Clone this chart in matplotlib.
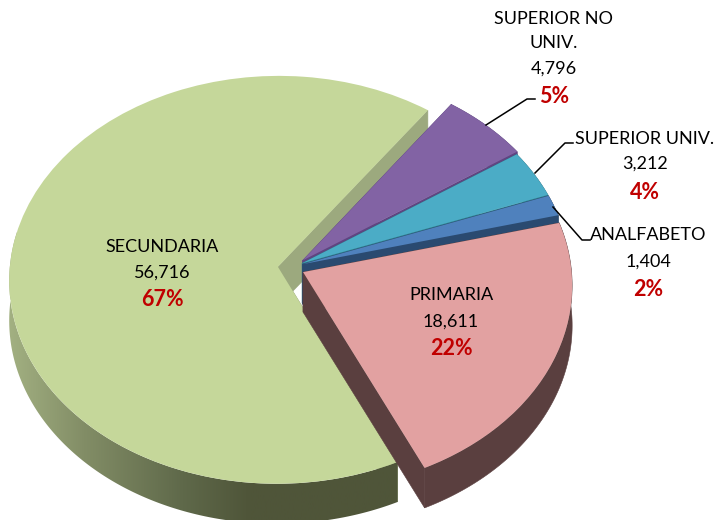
import numpy as np
import matplotlib
matplotlib.use("Agg")
import matplotlib.pyplot as plt
from matplotlib.colors import LinearSegmentedColormap
from matplotlib.patches import Polygon
from matplotlib.transforms import Transform

# --- data ---
categorias = ["PRIMARIA", "SECUNDARIA", "SUPERIOR NO\nUNIV.", "SUPERIOR UNIV.", "ANALFABETO"]
valores = [18611, 56716, 4796, 3212, 1404]
etiquetas_valor = ["18,611", "56,716", "4,796", "3,212", "1,404"]
porcentajes = ["22%", "67%", "5%", "4%", "2%"]
colores = ["#E2A1A1", "#C5D79A", "#8263A4", "#4BACC6", "#4F81BD"]
colores_pared = ["#5A3F3F", "#9CA97E", "#5F4581", "#2F7C8B", "#2A4A70"]
explosion = [0.0, 0.064, 0.04, 0.03, 0.03]

# --- camera ---
CX, CY = 295, 266
RX, RY = 268, 203
P = 0.0637
PROF = 40


class Perspectiva(Transform):
    input_dims = 2
    output_dims = 2
    is_separable = False
    has_inverse = False

    def transform_non_affine(self, values):
        v = np.asarray(values, dtype=float)
        d = 1 + P * v[:, 1]
        return np.column_stack([CX + RX * v[:, 0] / d, CY - RY * v[:, 1] / d])


persp = Perspectiva()

fig = plt.figure(figsize=(7.17, 5.2), dpi=100)
ax = fig.add_axes([0, 0, 1, 1])

wedges, _ = ax.pie(valores, colors=colores, startangle=14.2, counterclock=False,
                   explode=explosion, wedgeprops={"linewidth": 0})
# primaria and secundaria sit lower than a plain radial explode would put them
wedges[0].set_center((0.03, -0.03))
wedges[1].set_center((-0.0638, -0.004))
ax.set_aspect("auto")
ax.set_xlim(0, 717)
ax.set_ylim(520, 0)
ax.axis("off")


def arco(w, t1, t2, n=200):
    t = np.radians(np.linspace(t1, t2, n))
    pts = np.column_stack([w.center[0] + np.cos(t), w.center[1] + np.sin(t)])
    return persp.transform_non_affine(pts)


def punta(w):
    return persp.transform_non_affine(np.array([w.center], dtype=float))[0]


def cara(pts, **kw):
    # extrude a screen polyline downwards
    abajo = pts[::-1] + [0, PROF]
    return Polygon(np.vstack([pts, abajo]), closed=True, **kw)


# draw back to front
orden = [1, 2, 3, 4, 0]
for z, i in enumerate(orden):
    w = wedges[i]
    w.set_transform(persp + ax.transData)
    w.set_zorder(z * 10 + 5)
    tip = punta(w)
    a = arco(w, w.theta1, w.theta2)
    c = colores_pared[i]
    # the two cut faces and the outer rim
    ax.add_patch(cara(np.array([tip, a[0]]), facecolor=c, edgecolor=c, linewidth=0.4, zorder=z * 10 + 1))
    ax.add_patch(cara(np.array([tip, a[-1]]), facecolor=c, edgecolor=c, linewidth=0.4, zorder=z * 10 + 1))
    borde = cara(a, facecolor=c, edgecolor=c, linewidth=0.4, zorder=z * 10 + 2)
    ax.add_patch(borde)
    if i == 1:
        # rim of the big slice is shaded from left to right
        borde.set_visible(False)
        cmap = LinearSegmentedColormap.from_list(
            "rim", [(0, "#A4B283"), (0.2, "#828D66"), (0.45, "#5F694A"), (0.62, "#4F5539"), (1, "#4F5539")])
        grad = np.linspace(0, 1, 256).reshape(1, -1)
        im = ax.imshow(grad, cmap=cmap, extent=[5, 400, 520, 0], aspect="auto", zorder=z * 10 + 2)
        clip = cara(arco(w, w.theta2, -190), transform=ax.transData)
        im.set_clip_path(clip)
        ax.set_xlim(0, 717)
        ax.set_ylim(520, 0)

# --- leader lines ---
lineas = [
    ([486, 527, 535], [125, 99, 99]),
    ([535, 565, 573], [173, 143, 143]),
    ([553, 582, 590], [207, 240, 240]),
]
for xs, ys in lineas:
    ax.plot(xs, ys, color="black", linewidth=1.1, zorder=60)

# --- labels ---
FUENTE = "Lato"
posiciones = {
    0: (451, [294.5], 321.5, 348.5),
    1: (162, [246.5], 272.5, 299.5),
    2: (554, [18.5, 43.5], 68.5, 96.5),
    3: (645, [138.5], 163.5, 192.5),
    4: (648, [235.5], 261.5, 289.5),
}
for i, (x, ys, y_val, y_pct) in posiciones.items():
    for y, linea in zip(ys, categorias[i].split("\n")):
        ax.text(x, y, linea, ha="center", va="center", fontsize=13, family=FUENTE, color="black", zorder=70)
    ax.text(x, y_val, etiquetas_valor[i], ha="center", va="center", fontsize=13, family=FUENTE, color="black", zorder=70)
    ax.text(x, y_pct, porcentajes[i], ha="center", va="center", fontsize=15.5, family=FUENTE,
            fontweight="bold", color="#C00000", zorder=70)

fig.savefig("out.png", dpi=100)
